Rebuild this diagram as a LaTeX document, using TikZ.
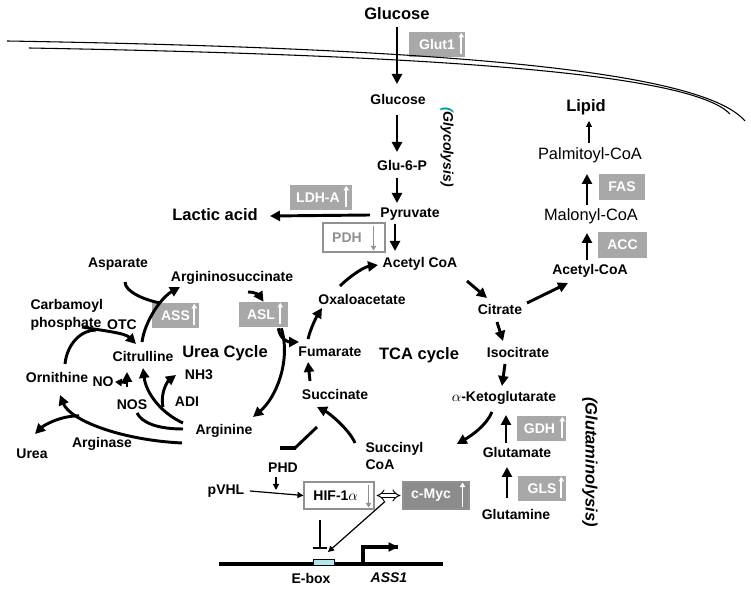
\documentclass[tikz,border=0pt]{standalone}
\usepackage{fontspec}
\setmainfont{Liberation Sans}
\usetikzlibrary{arrows.meta,calc}

\definecolor{enzgray}{RGB}{168,168,168}
\definecolor{mycgray}{RGB}{140,140,140}
\definecolor{downgray}{RGB}{145,145,145}
\definecolor{eboxcyan}{RGB}{180,228,236}
\definecolor{glyteal}{RGB}{0,150,160}

\tikzset{
  lbl/.style={font=\bfseries\fontsize{10.5}{12}\selectfont, inner sep=1pt},
  lblbig/.style={font=\bfseries\fontsize{12.4}{14}\selectfont, inner sep=1pt},
  lblplain/.style={font=\fontsize{12.3}{14}\selectfont, inner sep=1pt},
  enz/.style={fill=enzgray, text=white, font=\bfseries\fontsize{10.5}{12}\selectfont,
    inner sep=0pt, minimum height=18.75pt},
  enzopen/.style={enz, fill=white, draw=downgray, line width=0.8pt, text=downgray},
  eboxrect/.style={draw, line width=0.5pt, fill=eboxcyan, inner sep=0pt,
    minimum width=15.75pt, minimum height=5pt},
  flow/.style={line width=2.2pt, -{Triangle[length=7.5pt,width=7.5pt]}},
  thinflow/.style={line width=0.9pt, -{Triangle[length=4.5pt,width=4.5pt]}},
  enzarr/.style={line width=1.3pt, -{Triangle[length=3.5pt,width=4pt]}},
  membrane/.style={line width=0.8pt},
}

\newcommand{\enzup}[3]{\draw[enzarr,#3] ($(#1.south east)+(-#2,-3)$) -- ($(#1.north east)+(-#2,1)$);}
\newcommand{\enzdown}[3]{\draw[enzarr,#3] ($(#1.north east)+(-#2,4)$) -- ($(#1.south east)+(-#2,-2)$);}

\begin{document}
\begin{tikzpicture}[x=0.75pt,y=-0.75pt]
\useasboundingbox (0,0) rectangle (751,591);

% glycolysis
\node[lblbig] (glcout) at (397,14) {Glucose};
\node[enz, minimum width=42pt] (glut) at (437,44.5) {Glut1};
\node[lbl] (glc) at (398,100) {Glucose};
\node[lbl] (g6p) at (402,166) {Glu-6-P};
\node[lbl] (pyr) at (410,214) {Pyruvate};
\node[lbl] (acoa) at (420,264) {Acetyl CoA};
\node[lblbig] (lac) at (215,215) {Lactic acid};
\node[enz, minimum width=46.5pt] (ldh) at (321,197.5) {LDH-A\kern4.5pt};
\node[enzopen, minimum width=46.5pt, minimum height=21.75pt] (pdh) at (354,237.5) {PDH\kern10.5pt};
\node[lbl, rotate=-90] (glyco) at (447,147) {\itshape\textcolor{glyteal}{(}Glycolysis)};

\draw[membrane] (7,41) .. controls (420,48) and (700,68) .. (745,121);
\draw[membrane] (29,48) .. controls (420,55) and (690,72) .. (730,114);

\draw[flow] ($(glcout)+(0,13)$) -- ($(glc)+(-1,-16)$);
\draw[flow] ($(glc)+(-1,15)$) -- ($(g6p)+(-5,-14)$);
\draw[flow] ($(g6p)+(-5,12)$) -- ($(pyr)+(-13,-11)$);
\draw[flow] ($(pyr)+(-15,10)$) -- ($(acoa)+(-25,-13)$);
\draw[flow] ($(pyr)+(-40,1)$) -- ($(lac)+(55,1)$);
\enzup{glut}{4}{white}
\enzup{ldh}{6}{white}
\enzdown{pdh}{12}{downgray}

% TCA cycle
\node[lbl] (oaa) at (362,299) {Oxaloacetate};
\node[lbl] (fum) at (330,352) {Fumarate};
\node[lbl] (suc) at (335,394) {Succinate};
\node[lbl, align=left, anchor=west] (scoa) at (364,456) {Succinyl\\[1pt]CoA};
\node[lblbig] (tca) at (419,355) {TCA cycle};
\node[lbl] (cit) at (500,310) {Citrate};
\node[lbl] (icit) at (518,352) {Isocitrate};
\node[lbl] (akg) at (504,398) {$\alpha$-Ketoglutarate};
\node[lbl] (glu) at (517,452) {Glutamate};
\node[lbl] (gln) at (516,514) {Glutamine};
\node[enz, minimum width=36.75pt] (gdh) at (541.5,428.5) {GDH\kern3pt};
\node[enz, minimum width=36pt] (gls) at (542,488.5) {GLS};
\node[lblbig, rotate=-90] (glnlys) at (590,462) {\itshape (Glutaminolysis)};

\draw[flow] ($(oaa)+(-22,-13)$) .. controls +(10,-10) and +(-14,2) .. ($(acoa)+(-42,1)$);
\draw[flow] ($(acoa)+(47,17)$) -- ($(cit)+(-13,-12)$);
\draw[flow] ($(cit)+(-3,12)$) -- ($(icit)+(-15,-11)$);
\draw[flow] ($(icit)+(-13,12)$) -- ($(akg)+(-2,-12)$);
\draw[flow] ($(akg)+(-12,14)$) .. controls +(-6,14) and +(14,-8) .. ($(scoa.east)+(32,-12)$);
\draw[flow] ($(glu)+(-11,-9)$) -- ($(akg)+(2,17)$);
\draw[flow] ($(gln)+(-9,-16)$) -- ($(glu)+(-10,15)$);
\draw[flow] ($(scoa.west)+(-9,-13)$) .. controls +(-6,-14) and +(12,6) .. ($(suc)+(-18,13)$);
\draw[flow] ($(suc)+(-25,-13)$) -- ($(fum)+(-22,10)$);
\draw[flow] ($(fum)+(-22,-13)$) .. controls +(3,-12) and +(-5,8) .. ($(oaa)+(-40,9)$);
\enzup{gdh}{4}{white}
\enzup{gls}{5}{white}

% lipid synthesis
\node[lbl] (accoa) at (590,271) {Acetyl-CoA};
\node[lblplain] (mal) at (591,216) {Malonyl-CoA};
\node[lblplain] (palm) at (590,155) {Palmitoyl-CoA};
\node[lblbig] (lipid) at (586,107) {Lipid};
\node[enz, minimum width=36.75pt, minimum height=19.5pt] (acc) at (622.5,245) {ACC};
\node[enz, minimum width=34.5pt, minimum height=19.5pt] (fas) at (622,187) {FAS};

\draw[flow] ($(cit)+(27,-7)$) -- ($(accoa)+(-22,12)$);
\draw[flow] ($(accoa)+(-3,-11)$) -- ($(mal)+(-4,17)$);
\draw[flow] ($(mal)+(-4,-11)$) -- ($(palm)+(-3,19)$);
\draw[thinflow] ($(palm)+(-1,-12)$) -- ($(lipid)+(3,14)$);

% urea cycle
\node[lbl] (asp) at (118,264) {Asparate};
\node[lbl] (argsuc) at (232,278) {Argininosuccinate};
\node[lbl, align=left, anchor=west] (carb) at (29,315) {Carbamoyl\\[1pt]phosphate};
\node[lbl] (otc) at (122,325) {OTC};
\node[lbl] (citr) at (143,356) {Citrulline};
\node[lblbig] (urea) at (225,353) {Urea Cycle};
\node[lbl] (orn) at (57,377) {Ornithine};
\node[lbl] (no) at (103,382) {NO};
\node[lbl] (nh3) at (199,375) {NH3};
\node[lbl] (nos) at (132,405) {NOS};
\node[lbl] (adi) at (187,402) {ADI};
\node[lbl] (arg) at (224,431) {Arginine};
\node[lbl] (ureaout) at (32,454) {Urea};
\node[lbl] (argase) at (102,444) {Arginase};
\node[enz, minimum width=35.25pt] (ass) at (175.5,315.5) {ASS};
\node[enz, minimum width=36.75pt] (asl) at (263.5,314.5) {ASL\kern3.75pt};

\draw[flow] ($(argsuc)+(16,14)$) .. controls +(8,0) and +(-4,-6) .. (asl.north);
\draw[flow] ($(asl.south east)+(-10,1)$) .. controls +(2,12) and +(-10,0) .. ($(fum)+(-31,-10)$);
\draw[flow] ($(asl.south east)+(-7,1)$) .. controls +(10,32) and +(23,-19) .. ($(arg)+(29,-14)$);
\draw[flow] ($(citr)+(-1,-14)$) .. controls +(3,-22) and +(-18,10) .. ($(argsuc)+(-52,9)$);
\draw[line width=2.2pt] ($(asp)+(7,18)$) .. controls +(0,10) and +(-15,-3) .. (160,303);
\draw[flow] ($(carb.west)+(53,12)$) .. controls +(23,4) and +(-11,-11) .. ($(citr)+(-7,-12)$);
\draw[line width=2.2pt] ($(orn)+(8,-13)$) .. controls +(2,-20) and +(-15,0) .. (96,330);
\draw[flow] ($(arg)+(-41,-8)$) .. controls +(-22,-10) and +(3,25) .. ($(citr)+(0,12)$);
\draw[flow] ($(arg)+(-61,-24)$) .. controls +(-3,-15) and +(-8,6) .. ($(nh3)+(-23,0)$);
\draw[line width=2.2pt] ($(arg)+(-41,-2)$) .. controls +(-25,0) and +(5,10) .. ($(nos)+(5,8)$);
\draw[flow] ($(no)+(24,5)$) -- ($(no)+(24,-10)$);
\draw[line width=1.6pt, -{Triangle[length=5pt,width=5.5pt]}] ($(no)+(25,1)$) -- (no.east);
\draw[flow] ($(arg)+(-42,12)$) .. controls (120,440) and (70,420) .. coordinate[pos=0.7] (ubranch) ($(orn)+(3,18)$);
\draw[flow] (ubranch) .. controls +(-20,0) and +(8,-8) .. ($(ureaout)+(3,-20)$);
\enzup{ass}{5}{white}
\enzup{asl}{8}{white}

% HIF and ASS1 promoter
\node[lbl] (phd) at (283,468) {PHD};
\node[lbl] (pvhl) at (226,491) {pVHL};
\node[enz, fill=white, draw=downgray, line width=0.8pt, text=black, minimum width=52.5pt, minimum height=20.25pt] (hif) at (339,495.5) {HIF-1$\alpha$\kern5pt};
\node[enz, fill=mycgray, draw=downgray, line width=0.8pt, minimum width=49.5pt, minimum height=20.25pt] (myc) at (436,495.5) {c-Myc\kern7.5pt};
\coordinate (dnal) at (219,564);
\coordinate (dnar) at (443,564);
\draw[line width=2.4pt] (dnal) -- (dnar);
\node[eboxrect] (ebox) at (323.5,562.5) {};
\node[lbl] (eboxtxt) at (311,578) {E-box};
\node[lbl] (ass1) at (389,578) {\itshape ASS1};

\draw[line width=2.2pt] ($(suc)+(-18,33)$) -- ($(phd)+(12,-20)$);
\draw[line width=3pt] ($(phd)+(13,-20)$) -- ($(phd)+(-3,-20)$);
\draw[thinflow] ($(pvhl.east)+(4,0)$) -- (hif.west);
\draw[thinflow] ($(phd)+(-7,9)$) -- ($(phd)+(-7,22)$);
\draw[double, double distance=2.4pt, line width=0.7pt, {Implies}-{Implies}] ($(hif.east)+(2,0)$) -- ($(myc.west)+(-2,0)$);
\draw[line width=2.4pt] ($(dnal)!0.643!(dnar)$) |- ++(35,-17) coordinate (promo);
\draw[line width=0.1pt, -{Triangle[length=7pt,width=7pt]}] ($(promo)+(-1,0)$) -- (promo);
\draw[line width=1.5pt, -{Bar[width=10.5pt]}] ($(hif)+(-19,24.5)$) -- ($(ebox)+(-3.5,-13.5)$);
\draw[thinflow] ($(myc)+(-51,6)$) -- ($(ebox)+(4.5,-10.5)$);
\enzup{myc}{7}{white}
\enzdown{hif}{6}{downgray}
\end{tikzpicture}
\end{document}
